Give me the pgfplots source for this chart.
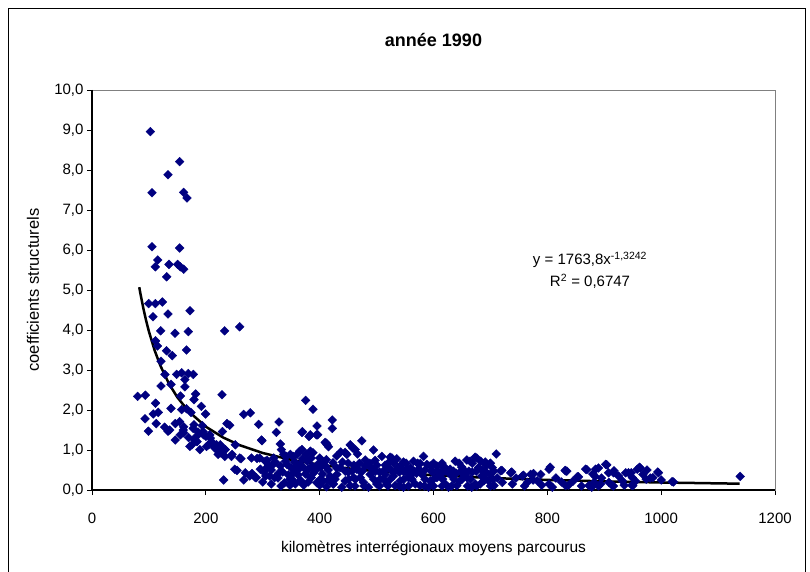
\documentclass[border=0pt]{standalone}
\usepackage{fontspec}
\setmainfont{Liberation Sans}
\usepackage{pgfplots}
\pgfplotsset{compat=1.18}
\definecolor{navy}{RGB}{0,0,128}
\definecolor{plotgray}{RGB}{128,128,128}

\pgfplotstableread{
x y
102.5 8.96
154 8.21
133.5 7.88
105.4 7.43
161 7.44
167 7.30
105.4 6.08
154 6.05
115.4 5.75
111.3 5.58
135.3 5.64
150.5 5.64
155.2 5.58
161 5.52
131.2 5.33
99.6 4.66
111.3 4.66
123.6 4.70
107.2 4.33
133.5 4.40
172.2 4.48
120.6 3.98
145.8 3.92
169.2 3.96
111.7 3.73
115.2 3.60
131 3.48
141 3.36
166.1 3.50
121.2 3.22
128.2 2.89
148.7 2.89
157.5 2.93
169.2 2.91
178 2.89
163.2 2.76
121.2 2.60
138.8 2.64
163.2 2.58
80.2 2.34
93.7 2.37
182.1 2.40
155.6 2.35
111.7 2.17
179.2 2.26
192.1 2.09
138.8 2.04
157.5 2.01
107.6 1.90
116.4 1.94
173.9 1.94
199.6 1.90
93.2 1.78
112.9 1.66
127.6 1.57
146.3 1.66
154 1.71
179.2 1.63
193.8 1.61
99.1 1.47
133.5 1.47
161 1.43
186.2 1.45
146.4 1.25
175.7 1.13
196.2 1.38
207.9 1.30
213.8 1.13
219.6 1.01
225.5 0.93
205 1.13
184.5 1.21
169.8 1.31
155.2 1.38
136.5 1.50
161 1.58
166 2.03
160.2 1.50
177.8 1.54
183.6 1.34
195.3 1.46
207 1.38
212.9 1.13
221.6 0.89
233.3 0.84
171.9 1.09
180.7 1.25
189.5 1.01
201.2 1.09
218.7 1.13
200 1.34
210 1.21
215.8 1.05
224.6 1.09
233.3 1.01
229.2 1.46
233 3.98
259.4 4.08
228.4 2.38
375.4 2.24
388.3 2.02
266.5 1.89
278.2 1.93
292.8 1.64
328.5 1.70
237.2 1.66
241.9 1.62
323.9 1.44
369 1.44
395.3 1.60
383.6 1.38
396.5 1.38
298.7 1.23
330.9 1.15
251.8 1.13
225.5 1.13
234.3 1.01
246 0.89
261.8 0.78
290 0.79
304.5 0.72
319.2 0.80
336.8 0.89
348.5 0.89
360.2 0.89
369 1.01
383.6 0.97
412.9 1.13
307.5 0.56
318 0.64
331 0.60
342.6 0.64
358.9 0.60
371.9 0.56
386.5 0.60
401.2 0.56
254.8 0.49
269.4 0.43
281.1 0.41
295.8 0.52
312.2 0.35
326.8 0.30
351.4 0.27
367.2 0.23
383.6 0.31
401.2 0.27
231.3 0.25
266.5 0.25
287 0.31
354.3 0.43
389.5 0.43
422.2 1.75
422.2 1.54
411.7 1.17
332.7 1.01
245 0.84
259.6 0.80
280.1 0.80
294.7 0.80
307.6 0.74
341.5 0.84
353.2 0.84
364.9 0.97
376.6 0.89
388.3 0.93
400 0.80
411.7 0.76
423.4 0.68
250.8 0.52
277.2 0.35
288.9 0.31
305.3 0.35
321 0.31
347.4 0.27
365 0.23
385.5 0.31
406 0.23
423.4 0.15
297.7 1.25
369.6 1.46
381.3 1.34
394.2 1.38
335 0.45
345 0.38
362 0.50
375 0.40
392 0.48
405 0.40
415 0.50
340 0.72
356 0.70
378 0.72
398 0.66
410 0.60
418 0.35
395 0.18
372 0.12
412 0.08
357 0.15
338 0.18
302 0.45
315 0.50
328 0.42
310 0.62
322 0.70
350 0.55
365 0.65
380 0.52
395 0.58
408 0.70
300 0.20
315 0.15
332 0.10
348 0.12
362 0.38
380 0.20
400 0.12
415 0.25
385 0.80
370 0.78
409.7 1.19
415.5 1.08
444.8 0.94
453.6 1.13
458.3 1.05
466.5 0.90
474.1 1.23
462.4 1.01
447.7 0.89
494.6 1.00
497.5 0.74
509.2 0.84
526.8 0.80
523.9 0.82
535.6 0.78
547.3 0.70
544.4 0.64
564.9 0.72
582.4 0.84
576.6 0.66
594.1 0.60
605.9 0.60
620.5 0.56
638.1 0.72
658.6 0.75
664.4 0.72
673.2 0.82
676.1 0.80
690.8 0.70
710.1 0.90
720.1 0.49
737.6 0.45
758.1 0.37
775.7 0.41
805 0.57
831.3 0.49
430.2 0.39
444.8 0.23
459.5 0.31
477.0 0.19
488.7 0.39
506.3 0.27
518.0 0.15
529.7 0.35
541.4 0.23
556.1 0.31
567.8 0.15
579.5 0.39
594.1 0.23
605.9 0.31
620.5 0.15
632.2 0.35
646.8 0.23
658.6 0.31
673.2 0.15
684.9 0.35
696.6 0.23
424.3 0.15
439 0.07
453.6 0.11
471.2 0.31
485.8 0.07
500.4 0.15
515.1 0.39
532.7 0.11
547.3 0.07
561.9 0.39
576.6 0.11
591.2 0.07
611.7 0.43
626.4 0.07
641 0.11
652.7 0.39
667.3 0.07
682 0.15
693.7 0.43
436 0.56
465.3 0.52
480 0.60
500.4 0.62
520.9 0.56
538.5 0.57
553.2 0.54
573.6 0.52
588.3 0.64
614.6 0.62
629.3 0.52
649.8 0.57
679.1 0.56
693.7 0.62
430 0.55
440 0.70
450 0.45
460 0.62
470 0.48
480 0.75
490 0.55
505 0.45
515 0.62
525 0.50
540 0.45
555 0.40
560 0.55
570 0.42
585 0.50
600 0.45
612 0.40
625 0.45
640 0.42
655 0.48
668 0.45
685 0.50
700 0.40
712 0.30
430 0.85
437 0.95
427 0.27
451 0.27
463 0.27
495 0.27
512 0.27
524 0.27
548 0.27
562 0.27
585 0.27
600 0.27
616 0.27
636 0.27
650 0.27
665 0.27
690 0.27
705 0.27
445 0.47
457 0.47
475 0.47
498 0.47
512 0.47
532 0.47
547 0.47
566 0.47
578 0.47
596 0.47
608 0.47
620 0.47
635 0.47
648 0.47
662 0.47
675 0.47
690 0.47
706 0.47
450 0.67
470 0.67
488 0.67
520 0.67
530 0.67
552 0.67
572 0.67
600 0.67
615 0.67
645 0.67
668 0.67
700 0.67
462 0.10
478 0.10
505 0.10
520 0.10
540 0.10
556 0.10
584 0.10
600 0.10
615 0.10
632 0.10
660 0.10
676 0.10
700 0.10
682.9 0.72
691.7 0.64
703.4 0.56
718 0.48
735.6 0.43
756.1 0.35
770.7 0.39
788.3 0.39
802.9 0.52
832.2 0.48
852.7 0.33
867.3 0.52
884.9 0.52
902.5 0.64
917.1 0.48
937.6 0.43
958.1 0.52
688.7 0.23
706.3 0.11
720.9 0.19
738.5 0.15
764.9 0.19
782.4 0.23
802.9 0.15
808.8 0.07
832.2 0.11
873.2 0.11
882 0.19
893.7 0.15
908.3 0.19
914.2 0.11
931.8 0.23
949.3 0.31
834.3 0.47
854.8 0.33
869.4 0.51
884 0.34
889.9 0.55
904.5 0.63
907.5 0.43
916.3 0.43
942.6 0.43
963.1 0.55
980.7 0.30
995.3 0.43
1021.7 0.20
1138.8 0.34
837.2 0.12
878.2 0.07
890 0.10
916.3 0.10
948.5 0.12
947.3 0.43
961.9 0.57
967.8 0.39
973.6 0.27
985.4 0.31
994.1 0.45
950.2 0.11
1019.3 0.21
745 0.30
760 0.10
775 0.25
790 0.12
815 0.30
825 0.20
845 0.22
860 0.10
880 0.40
895 0.30
925 0.35
935 0.12
955 0.22
975 0.50
1000 0.25
}\pointsdata

\pgfplotstableread{
x y
83 5.07
85 4.915
90 4.556
95 4.241
100 3.963
110 3.493
120 3.113
135 2.663
150 2.317
170 1.963
200 1.583
230 1.315
260 1.118
300 0.925
350 0.754
400 0.632
450 0.541
500 0.470
600 0.369
700 0.301
800 0.252
900 0.216
1000 0.188
1100 0.166
1138 0.158
}\trenddata

\begin{document}
\begin{tikzpicture}[x=1pt,y=1pt]
\useasboundingbox (0,0) rectangle (810,571);
\fill[white] (0,0) rectangle (810,571);
\draw[black, line width=0.9pt] (8,-5) -- (8,563) -- (805,563) -- (805,-5);
\begin{axis}[
  at={(92pt,81pt)}, anchor=south west,
  scale only axis, width=683pt, height=400pt,
  xmin=0, xmax=1200, ymin=0, ymax=10,
  xtick={0,200,...,1200}, ytick={0,1,...,10},
  xtick pos=left, ytick pos=left,
  axis line style={draw=plotgray, line width=0.9pt},
  tick align=outside, major tick length=5pt,
  tick style={black, line width=0.9pt},
  /pgf/number format/assume math mode=true,
  ticklabel style={font=\fontsize{15}{18}\selectfont},
  y tick label style={/pgf/number format/.cd, fixed, fixed zerofill, precision=1, use comma},
  x tick label style={/pgf/number format/1000 sep={}, yshift=-14pt},
  xlabel={kilomètres interrégionaux moyens parcourus},
  ylabel={coefficients structurels},
  xlabel style={at={(axis description cs:0.5,-0.145)}, anchor=center, font=\fontsize{15.5}{18}\selectfont},
  ylabel style={at={(axis description cs:-0.0864,0.5)}, anchor=center, font=\fontsize{16.5}{18}\selectfont},
  title={année 1990},
  title style={at={(axis description cs:0.5,1.11)}, anchor=center, font=\bfseries\fontsize{18}{21}\selectfont},
  clip=false,
]
\addplot[only marks, mark=square*, mark size=3.1pt, mark options={rotate=45, draw=navy, fill=navy}] table[x=x, y=y] {\pointsdata};
\addplot[black, line width=2.5pt, no marks] table[x=x, y=y] {\trenddata};
\draw[black, line width=1.2pt] (rel axis cs:0,1) -- (rel axis cs:0,0) -- (rel axis cs:1,0);
\node[font=\fontsize{15}{18}\selectfont, anchor=center] at (axis cs:875,5.75) {y = 1763,8x\textsuperscript{-1,3242}};
\node[font=\fontsize{15}{18}\selectfont, anchor=center] at (axis cs:875,5.21) {R\textsuperscript{2} = 0,6747};
\end{axis}
\end{tikzpicture}
\end{document}
